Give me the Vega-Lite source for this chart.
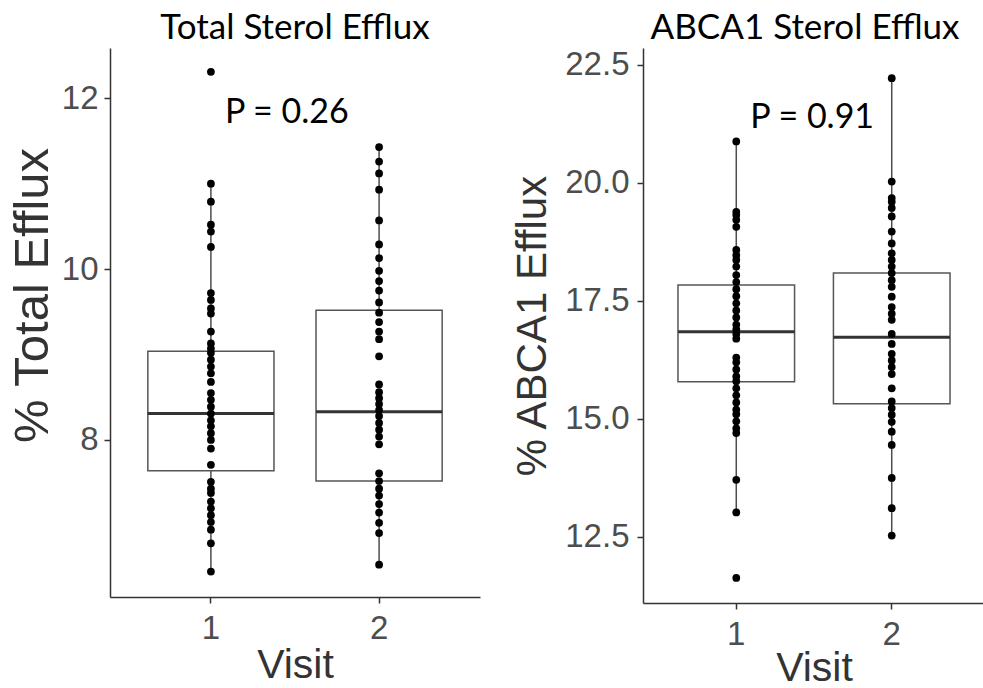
{
  "$schema": "https://vega.github.io/schema/vega-lite/v6.json",
  "padding": {"left": 8, "top": 11, "right": 0, "bottom": 0},
  "spacing": 31,
  "background": "white",
  "config": {
    "view": {"stroke": null},
    "title": {"font": "Lato", "fontSize": 35, "fontWeight": "normal", "color": "black", "offset": 2, "anchor": "middle"},
    "axis": {
      "grid": false,
      "domainColor": "#333333",
      "domainWidth": 1.5,
      "tickColor": "#333333",
      "tickWidth": 1.5,
      "tickSize": 6,
      "labelFont": "Liberation Sans",
      "labelFontSize": 33,
      "labelColor": "#4d4d4d",
      "labelPadding": 6,
      "titleFont": "Liberation Sans",
      "titleFontSize": 41,
      "titleFontWeight": "normal",
      "titleColor": "#333333"
    }
  },
  "datasets": {
    "totalPts": [
      {"visit": "1", "value": 12.31}, {"visit": "1", "value": 11.00}, {"visit": "1", "value": 10.79}, {"visit": "1", "value": 10.52},
      {"visit": "1", "value": 10.44}, {"visit": "1", "value": 10.26}, {"visit": "1", "value": 9.72}, {"visit": "1", "value": 9.64},
      {"visit": "1", "value": 9.54}, {"visit": "1", "value": 9.48}, {"visit": "1", "value": 9.27}, {"visit": "1", "value": 9.13},
      {"visit": "1", "value": 9.07}, {"visit": "1", "value": 9.02}, {"visit": "1", "value": 8.94}, {"visit": "1", "value": 8.86},
      {"visit": "1", "value": 8.78}, {"visit": "1", "value": 8.68}, {"visit": "1", "value": 8.55}, {"visit": "1", "value": 8.47},
      {"visit": "1", "value": 8.39}, {"visit": "1", "value": 8.31}, {"visit": "1", "value": 8.23}, {"visit": "1", "value": 8.16},
      {"visit": "1", "value": 8.08}, {"visit": "1", "value": 8.00}, {"visit": "1", "value": 7.90}, {"visit": "1", "value": 7.71},
      {"visit": "1", "value": 7.51}, {"visit": "1", "value": 7.43}, {"visit": "1", "value": 7.38}, {"visit": "1", "value": 7.28},
      {"visit": "1", "value": 7.20}, {"visit": "1", "value": 7.12}, {"visit": "1", "value": 7.04}, {"visit": "1", "value": 6.95},
      {"visit": "1", "value": 6.79}, {"visit": "1", "value": 6.46},
      {"visit": "2", "value": 11.43}, {"visit": "2", "value": 11.26}, {"visit": "2", "value": 11.12}, {"visit": "2", "value": 10.93},
      {"visit": "2", "value": 10.57}, {"visit": "2", "value": 10.29}, {"visit": "2", "value": 10.13}, {"visit": "2", "value": 9.98},
      {"visit": "2", "value": 9.86}, {"visit": "2", "value": 9.75}, {"visit": "2", "value": 9.61}, {"visit": "2", "value": 9.49},
      {"visit": "2", "value": 9.38}, {"visit": "2", "value": 9.27}, {"visit": "2", "value": 9.18}, {"visit": "2", "value": 8.98},
      {"visit": "2", "value": 8.65}, {"visit": "2", "value": 8.56}, {"visit": "2", "value": 8.49}, {"visit": "2", "value": 8.42},
      {"visit": "2", "value": 8.35}, {"visit": "2", "value": 8.28}, {"visit": "2", "value": 8.20}, {"visit": "2", "value": 8.12},
      {"visit": "2", "value": 8.04}, {"visit": "2", "value": 7.95}, {"visit": "2", "value": 7.61}, {"visit": "2", "value": 7.52},
      {"visit": "2", "value": 7.43}, {"visit": "2", "value": 7.35}, {"visit": "2", "value": 7.25}, {"visit": "2", "value": 7.15},
      {"visit": "2", "value": 7.03}, {"visit": "2", "value": 6.91}, {"visit": "2", "value": 6.54}
    ],
    "totalBox": [
      {"visit": "1", "lo": 6.46, "q1": 7.64, "median": 8.31, "q3": 9.04, "hi": 11.00},
      {"visit": "2", "lo": 6.54, "q1": 7.52, "median": 8.33, "q3": 9.52, "hi": 11.43}
    ],
    "totalP": [{"visit": "1", "value": 11.83, "label": "P = 0.26"}],
    "abcaPts": [
      {"visit": "1", "value": 20.88}, {"visit": "1", "value": 19.39}, {"visit": "1", "value": 19.32}, {"visit": "1", "value": 19.22},
      {"visit": "1", "value": 19.07}, {"visit": "1", "value": 18.58}, {"visit": "1", "value": 18.47}, {"visit": "1", "value": 18.37},
      {"visit": "1", "value": 18.23}, {"visit": "1", "value": 18.05}, {"visit": "1", "value": 17.90}, {"visit": "1", "value": 17.75},
      {"visit": "1", "value": 17.60}, {"visit": "1", "value": 17.45}, {"visit": "1", "value": 17.30}, {"visit": "1", "value": 17.15},
      {"visit": "1", "value": 17.00}, {"visit": "1", "value": 16.90}, {"visit": "1", "value": 16.80}, {"visit": "1", "value": 16.70},
      {"visit": "1", "value": 16.30}, {"visit": "1", "value": 16.20}, {"visit": "1", "value": 16.05}, {"visit": "1", "value": 15.90},
      {"visit": "1", "value": 15.80}, {"visit": "1", "value": 15.65}, {"visit": "1", "value": 15.50}, {"visit": "1", "value": 15.35},
      {"visit": "1", "value": 15.20}, {"visit": "1", "value": 15.10}, {"visit": "1", "value": 14.95}, {"visit": "1", "value": 14.80},
      {"visit": "1", "value": 14.70}, {"visit": "1", "value": 13.71}, {"visit": "1", "value": 13.02}, {"visit": "1", "value": 11.63},
      {"visit": "2", "value": 22.22}, {"visit": "2", "value": 20.03}, {"visit": "2", "value": 19.68}, {"visit": "2", "value": 19.60},
      {"visit": "2", "value": 19.47}, {"visit": "2", "value": 19.29}, {"visit": "2", "value": 18.97}, {"visit": "2", "value": 18.72},
      {"visit": "2", "value": 18.51}, {"visit": "2", "value": 18.37}, {"visit": "2", "value": 18.23}, {"visit": "2", "value": 18.09},
      {"visit": "2", "value": 17.94}, {"visit": "2", "value": 17.80}, {"visit": "2", "value": 17.59}, {"visit": "2", "value": 17.37},
      {"visit": "2", "value": 17.23}, {"visit": "2", "value": 17.10}, {"visit": "2", "value": 16.80}, {"visit": "2", "value": 16.59},
      {"visit": "2", "value": 16.38}, {"visit": "2", "value": 16.24}, {"visit": "2", "value": 16.10}, {"visit": "2", "value": 15.95},
      {"visit": "2", "value": 15.65}, {"visit": "2", "value": 15.37}, {"visit": "2", "value": 15.23}, {"visit": "2", "value": 15.09},
      {"visit": "2", "value": 14.94}, {"visit": "2", "value": 14.73}, {"visit": "2", "value": 14.45}, {"visit": "2", "value": 13.75},
      {"visit": "2", "value": 13.11}, {"visit": "2", "value": 12.53}
    ],
    "abcaBox": [
      {"visit": "1", "lo": 13.02, "q1": 15.79, "median": 16.85, "q3": 17.84, "hi": 20.88},
      {"visit": "2", "lo": 12.53, "q1": 15.32, "median": 16.73, "q3": 18.09, "hi": 22.22}
    ],
    "abcaP": [{"visit": "1", "value": 21.38, "label": "P = 0.91"}]
  },
  "hconcat": [
    {
      "width": 370,
      "height": 549,
      "title": "Total Sterol Efflux",
      "encoding": {
        "x": {"field": "visit", "type": "nominal", "scale": {"type": "band", "paddingInner": 0, "paddingOuter": 0.1},
              "axis": {"title": "Visit", "labelAngle": 0, "labelPadding": 9, "titlePadding": 0}}
      },
      "layer": [
        {
          "data": {"name": "totalBox"},
          "mark": {"type": "rule", "color": "#4d4d4d", "strokeWidth": 1.5},
          "encoding": {
            "y": {"field": "lo", "type": "quantitative", "scale": {"domain": [6.162, 12.589], "nice": false, "zero": false},
                  "axis": {"title": "% Total Efflux", "values": [8, 10, 12], "format": "d", "titleFontSize": 49, "titlePadding": 4, "titleY": 247}},
            "y2": {"field": "hi"}
          }
        },
        {
          "data": {"name": "totalBox"},
          "mark": {"type": "bar", "width": {"band": 0.75}, "fill": "white", "stroke": "#555555", "strokeWidth": 1.5},
          "encoding": {"y": {"field": "q1", "type": "quantitative"}, "y2": {"field": "q3"}}
        },
        {
          "data": {"name": "totalBox"},
          "mark": {"type": "bar", "width": {"band": 0.75}, "fill": "#333333", "stroke": "#333333", "strokeWidth": 3},
          "encoding": {"y": {"field": "median", "type": "quantitative"}, "y2": {"field": "median"}}
        },
        {
          "data": {"name": "totalPts"},
          "mark": {"type": "circle", "color": "black", "opacity": 1, "size": 60},
          "encoding": {"y": {"field": "value", "type": "quantitative"}}
        },
        {
          "data": {"name": "totalP"},
          "mark": {"type": "text", "font": "Lato", "fontSize": 34, "color": "black", "align": "left", "baseline": "middle", "dx": 14},
          "encoding": {"y": {"field": "value", "type": "quantitative"}, "text": {"field": "label"}}
        }
      ]
    },
    {
      "width": 342,
      "height": 555,
      "title": {"text": "ABCA1 Sterol Efflux", "dx": -9},
      "encoding": {
        "x": {"field": "visit", "type": "nominal", "scale": {"type": "band", "paddingInner": 0, "paddingOuter": 0.1},
              "axis": {"title": "Visit", "labelAngle": 0, "labelPadding": 9, "titlePadding": -3}}
      },
      "layer": [
        {
          "data": {"name": "abcaBox"},
          "mark": {"type": "rule", "color": "#4d4d4d", "strokeWidth": 1.5},
          "encoding": {
            "y": {"field": "lo", "type": "quantitative", "scale": {"domain": [11.10, 22.86], "nice": false, "zero": false},
                  "axis": {"title": "% ABCA1 Efflux", "values": [12.5, 15, 17.5, 20, 22.5], "format": ".1f", "titleFontSize": 42, "labelPadding": 8, "titlePadding": 10}},
            "y2": {"field": "hi"}
          }
        },
        {
          "data": {"name": "abcaBox"},
          "mark": {"type": "bar", "width": {"band": 0.75}, "fill": "white", "stroke": "#555555", "strokeWidth": 1.5},
          "encoding": {"y": {"field": "q1", "type": "quantitative"}, "y2": {"field": "q3"}}
        },
        {
          "data": {"name": "abcaBox"},
          "mark": {"type": "bar", "width": {"band": 0.75}, "fill": "#333333", "stroke": "#333333", "strokeWidth": 3},
          "encoding": {"y": {"field": "median", "type": "quantitative"}, "y2": {"field": "median"}}
        },
        {
          "data": {"name": "abcaPts"},
          "mark": {"type": "circle", "color": "black", "opacity": 1, "size": 60},
          "encoding": {"y": {"field": "value", "type": "quantitative"}}
        },
        {
          "data": {"name": "abcaP"},
          "mark": {"type": "text", "font": "Lato", "fontSize": 34, "color": "black", "align": "left", "baseline": "middle", "dx": 14},
          "encoding": {"y": {"field": "value", "type": "quantitative"}, "text": {"field": "label"}}
        }
      ]
    }
  ]
}
